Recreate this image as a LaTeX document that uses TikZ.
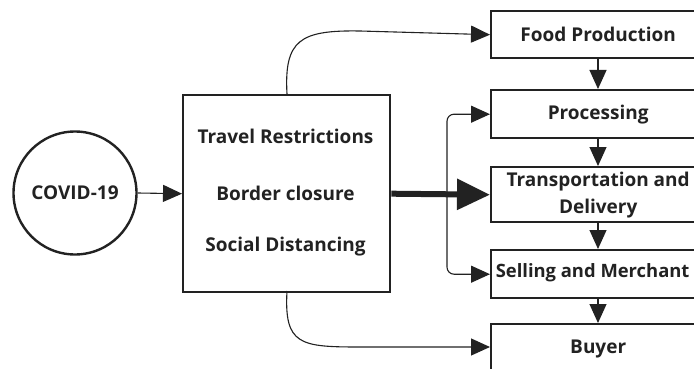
\documentclass[tikz,border=0pt]{standalone}
\usepackage{fontspec}
\setmainfont{Open Sans}
\usetikzlibrary{arrows.meta}
\definecolor{ink}{HTML}{222222}
\begin{document}
\begin{tikzpicture}[x=1pt,y=-1pt,
  font=\bfseries\fontsize{19}{27}\selectfont, text=ink,
  box/.style={draw=ink,line width=2.4pt,rectangle,minimum width=214pt,anchor=north west,align=center,inner sep=0pt},
  conn/.style={draw=ink,line width=1.1pt,-{Triangle[length=19pt,width=17pt]}},
  big/.style={draw=ink,line width=6pt,-{Triangle[length=33pt,width=30pt]}}]
\clip (0,0) rectangle (694,369);
\fill[white] (0,0) rectangle (694,369);
\node[draw=ink,line width=2.4pt,circle,minimum size=123pt,inner sep=0pt] (covid) at (75,193) {COVID-19};
\node[draw=ink,line width=2.4pt,rectangle,minimum width=207pt,minimum height=197pt,inner sep=0pt,anchor=north west] (main) at (182,94) {};
\node (t1) at (285.5,136) {Travel Restrictions};
\node (t2) at (285.5,193) {Border closure};
\node (t3) at (285.5,247) {Social Distancing};
\node[box,minimum height=47pt] (food) at (490,10) {Food Production};
\node[box,minimum height=48pt] (proc) at (490,89) {Processing};
\node[box,minimum height=55pt] (trans) at (490,166) {Transportation and\\Delivery};
\node[box,minimum height=48pt] (sell) at (490,249) {};
\node[anchor=east,font=\bfseries\fontsize{18.4}{22}\selectfont] (selltxt) at (693,273) {Selling and Merchant};
\node[box,minimum height=50pt] (buyer) at (490,323) {Buyer};
\draw[conn] (covid.east) -- (main.west);
\draw[big] (main.east) -- (trans.west);
\coordinate (mt) at (287,94);
\coordinate (mb) at (287,291);
\draw[conn] (mt) .. controls (284,40) and (300,30) .. (360,31) -- (food.west);
\draw[conn] (mb) .. controls (284,345) and (300,347) .. (360,347) -- (buyer.west |- 0,347);
\coordinate (brk) at (447,193);
\draw[conn,rounded corners=7pt] (brk) |- (proc.west);
\draw[conn,rounded corners=7pt] (brk) |- (sell.west);
\draw[conn] (food.south -| 598,0) -- (proc.north -| 598,0);
\draw[conn] (proc.south -| 598,0) -- (trans.north -| 598,0);
\draw[conn] (trans.south -| 598,0) -- (sell.north -| 598,0);
\draw[conn] (sell.south -| 598,0) -- (buyer.north -| 598,0);
\end{tikzpicture}
\end{document}
